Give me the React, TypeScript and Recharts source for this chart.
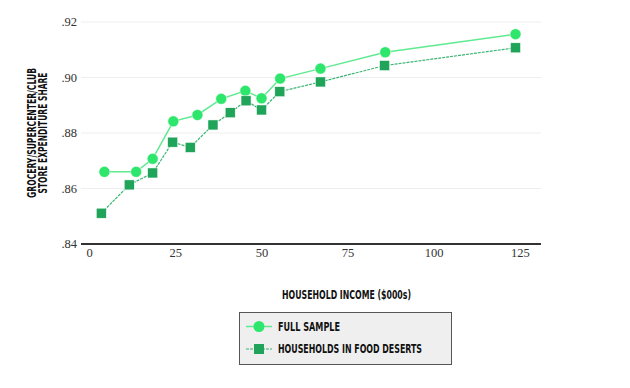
import { LineChart, Line, XAxis, YAxis, CartesianGrid } from 'recharts';

// income in $000s, expenditure share
const fullIncome = [4.3, 13.5, 18.3, 24.3, 31.3, 38.2, 45.2, 49.9, 55.3, 67.0, 85.8, 123.6];
const fullShare = [0.866, 0.866, 0.8707, 0.8842, 0.8865, 0.8923, 0.8952, 0.8925, 0.8996, 0.9032, 0.9091, 0.9156];

const desertIncome = [3.4, 11.5, 18.3, 24.1, 29.2, 35.8, 40.8, 45.4, 49.9, 55.2, 67.0, 85.6, 123.6];
const desertShare = [0.8511, 0.8613, 0.8656, 0.8767, 0.8748, 0.8829, 0.8873, 0.8916, 0.8883, 0.8949, 0.8984, 0.9043, 0.9107];

const xTicks = [0, 25, 50, 75, 100, 125];
const yTicks = [0.84, 0.86, 0.88, 0.9, 0.92];

const fullData = fullIncome.map((x, i) => ({ x, y: fullShare[i] }));
const desertData = desertIncome.map((x, i) => ({ x, y: desertShare[i] }));

const LIGHT = '#2ee66c';
const LIGHT_LINE = '#5fea90';
const DARK = '#1fa45a';
const DARK_LINE = '#3bb574';
const LABEL_FONT = "'DejaVu Sans Condensed', 'Liberation Sans Narrow', sans-serif";
const TICK_FONT = "'Liberation Serif', 'DejaVu Serif', serif";

const fmtY = (v: number) => v.toFixed(2).replace(/^0/, '');

const SquareDot = (props: any) => {
  const { cx, cy } = props;
  if (cx == null || cy == null) return null;
  return <rect x={cx - 5} y={cy - 5} width={10} height={10} fill={DARK} stroke="#fff" strokeWidth={0.5} />;
};

const YLabel = (props: any) => {
  const { viewBox } = props;
  const cx = 37;
  const cy = viewBox.y + viewBox.height / 2;
  return (
    <g transform={`translate(${cx}, ${cy}) rotate(-90)`} fontFamily={LABEL_FONT} fontWeight="bold" fontSize={11.5} fill="#111">
      <text x={-65} y={-1.5} textLength={130} lengthAdjust="spacingAndGlyphs">GROCERY/SUPERCENTER/CLUB</text>
      <text x={-60.5} y={10} textLength={121} lengthAdjust="spacingAndGlyphs">STORE EXPENDITURE SHARE</text>
    </g>
  );
};

const XLabel = (props: any) => {
  const { viewBox } = props;
  return (
    <text
      x={viewBox.x + viewBox.width / 2 - 29}
      y={viewBox.y + 55}
      fontFamily={LABEL_FONT}
      fontWeight="bold"
      fontSize={11.5}
      fill="#111"
      textLength={129}
      lengthAdjust="spacingAndGlyphs"
    >
      HOUSEHOLD INCOME ($000s)
    </text>
  );
};

export default function App() {
  return (
    <div style={{ position: 'absolute', left: 0, top: 0, width: 630, height: 388, background: '#fff' }}>
      <LineChart width={630} height={388} margin={{ top: 22, right: 89, bottom: 114, left: 0 }}>
        <CartesianGrid horizontal vertical={false} stroke="#eeeeee" />
        <XAxis
          type="number"
          dataKey="x"
          domain={[-2.5, 131]}
          ticks={xTicks}
          allowDuplicatedCategory={false}
          axisLine={{ stroke: '#333', strokeWidth: 2 }}
          tickLine={false}
          tickSize={0}
          tickMargin={4}
          height={30}
          tick={{ fontFamily: TICK_FONT, fontSize: 12.5, fill: '#333' }}
          label={<XLabel />}
        />
        <YAxis
          type="number"
          dataKey="y"
          domain={[0.84, 0.92]}
          ticks={yTicks}
          tickFormatter={fmtY}
          axisLine={false}
          tickLine={false}
          tickSize={0}
          tickMargin={4}
          width={81}
          tick={{ fontFamily: TICK_FONT, fontSize: 12.5, fill: '#333' }}
          label={<YLabel />}
        />
        <Line
          data={fullData}
          dataKey="y"
          name="Full sample"
          stroke={LIGHT_LINE}
          strokeWidth={1.5}
          dot={{ r: 5.5, fill: LIGHT, stroke: '#fff', strokeWidth: 0.5 }}
          activeDot={false}
          isAnimationActive={false}
        />
        <Line
          data={desertData}
          dataKey="y"
          name="Households in food deserts"
          stroke={DARK_LINE}
          strokeWidth={1.2}
          strokeDasharray="3 1"
          dot={<SquareDot />}
          activeDot={false}
          isAnimationActive={false}
        />
      </LineChart>
      <svg width={260} height={54} style={{ position: 'absolute', left: 239, top: 312 }}>
        <rect x={0.5} y={0.5} width={212} height={52} fill="#efefef" stroke="#555" strokeWidth={1} />
        <line x1={7} y1={14.5} x2={33} y2={14.5} stroke={LIGHT_LINE} strokeWidth={1.5} />
        <circle cx={20} cy={14.5} r={5.5} fill={LIGHT} />
        <line x1={7} y1={37} x2={33} y2={37} stroke={DARK_LINE} strokeWidth={1.2} strokeDasharray="3 1" />
        <rect x={15} y={32} width={10} height={10} fill={DARK} />
        <g fontFamily={LABEL_FONT} fontWeight="bold" fontSize={11.5} fill="#111">
          <text x={39} y={18.5} textLength={62} lengthAdjust="spacingAndGlyphs">FULL SAMPLE</text>
          <text x={39} y={41} textLength={144} lengthAdjust="spacingAndGlyphs">HOUSEHOLDS IN FOOD DESERTS</text>
        </g>
      </svg>
    </div>
  );
}
